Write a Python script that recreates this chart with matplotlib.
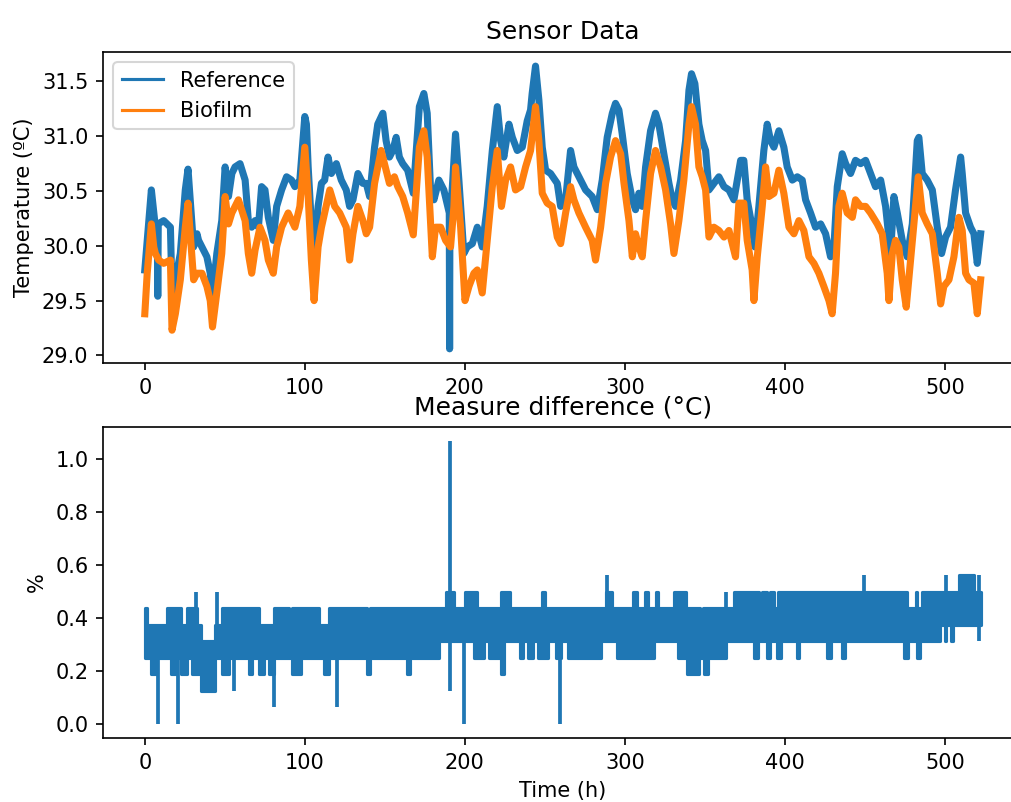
import numpy as np
import matplotlib.pyplot as plt

# reference sensor temperature (time in h, value in ºC)
ref_t = [0, 1.5, 4.1, 6.6, 7.8, 8.1, 8.4, 11.8, 16.0, 17.0, 19.1, 22.2, 25.3, 27.0, 28.4, 30.5,
         32.6, 33.6, 35.7, 38.8, 40.9, 42.3, 45.0, 48.1, 50.2, 52.3, 54.4, 56.4, 59.5, 62.7, 64.7,
         66.8, 68.9, 71.0, 73.0, 75.1, 77.2, 80.3, 82.4, 85.5, 88.6, 91.7, 93.8, 96.9, 100.0, 101.0,
         102.1, 104.1, 105.8, 108.3, 110.4, 112.4, 114.5, 116.6, 119.7, 122.8, 125.9, 128.0, 130.1,
         133.2, 136.3, 138.4, 140.5, 143.6, 145.6, 148.8, 150.8, 152.9, 155.0, 157.1, 159.1, 161.2,
         164.3, 167.8, 171.6, 174.4, 176.5, 178.6, 180.7, 183.8, 186.9, 190.3, 190.5, 190.7, 192.1,
         194.2, 196.3, 199.4, 201.5, 204.7, 207.8, 210.9, 214.0, 217.2, 220.3, 222.4, 224.4, 227.6,
         229.7, 232.8, 235.9, 239.0, 241.1, 242.1, 244.2, 246.3, 248.4, 250.5, 253.6, 257.8, 259.9,
         263.0, 266.1, 268.2, 271.3, 275.5, 279.6, 282.8, 285.9, 289.0, 292.2, 294.2, 296.3, 298.4,
         301.5, 304.7, 306.7, 308.8, 310.9, 313.0, 316.1, 319.2, 321.3, 324.4, 327.6, 329.7, 331.7,
         334.9, 338.0, 340.1, 341.7, 343.8, 346.3, 348.4, 350.5, 352.6, 355.7, 358.8, 362.0, 365.1,
         368.2, 370.3, 372.4, 374.4, 376.5, 379.6, 381.3, 383.8, 386.9, 389.0, 391.1, 393.2, 396.3,
         399.4, 401.5, 404.7, 407.8, 410.9, 413.0, 416.1, 419.2, 422.4, 425.5, 428.6, 430.7, 432.8,
         435.9, 438.0, 441.1, 444.2, 447.4, 450.5, 453.6, 456.7, 459.9, 463.0, 466.1, 468.2, 470.3,
         473.4, 476.5, 479.7, 482.8, 483.8, 485.9, 489.0, 492.2, 495.3, 498.0, 500.5, 503.6, 506.7,
         509.9, 510.9, 513.0, 516.1, 518.2, 520.3, 522.4]
ref_v = [29.78, 30.05, 30.51, 30.17, 30.17, 29.54, 30.2, 30.23, 30.17, 29.57, 29.69, 29.93, 30.51,
         30.7, 30.42, 29.99, 30.11, 30.05, 29.99, 29.9, 29.75, 29.54, 29.93, 30.23, 30.72, 30.45,
         30.66, 30.72, 30.75, 30.6, 30.23, 30.17, 30.23, 30.17, 30.54, 30.51, 30.26, 30.05, 30.36,
         30.51, 30.63, 30.6, 30.54, 30.6, 31.18, 31.11, 30.72, 30.2, 29.9, 30.36, 30.57, 30.6, 30.81,
         30.66, 30.75, 30.6, 30.51, 30.36, 30.42, 30.66, 30.57, 30.57, 30.45, 30.9, 31.11, 31.21,
         30.96, 30.81, 30.87, 30.99, 30.81, 30.75, 30.69, 30.48, 31.27, 31.39, 31.21, 30.51, 30.42,
         30.6, 30.51, 30.3, 29.06, 30.3, 30.51, 31.02, 30.6, 29.93, 29.99, 30.02, 30.17, 29.99, 30.36,
         30.87, 31.27, 30.96, 30.81, 31.11, 30.99, 30.87, 30.9, 31.14, 31.24, 31.39, 31.64, 31.33,
         30.9, 30.69, 30.66, 30.57, 30.36, 30.42, 30.87, 30.72, 30.63, 30.51, 30.45, 30.33, 30.6,
         30.99, 31.21, 31.3, 31.24, 31.02, 30.66, 30.42, 30.33, 30.48, 30.36, 30.72, 31.05, 31.21,
         31.11, 30.84, 30.57, 30.42, 30.36, 30.6, 30.96, 31.42, 31.57, 31.48, 31.11, 30.96, 30.87,
         30.51, 30.57, 30.63, 30.54, 30.51, 30.42, 30.6, 30.78, 30.78, 30.42, 30.17, 29.99, 30.36,
         30.87, 31.11, 30.96, 30.9, 31.05, 30.9, 30.72, 30.6, 30.63, 30.6, 30.42, 30.3, 30.17, 30.2,
         30.11, 29.9, 29.99, 30.54, 30.84, 30.75, 30.66, 30.78, 30.75, 30.78, 30.66, 30.54, 30.6,
         30.36, 29.93, 30.45, 30.3, 30.05, 29.9, 30.2, 30.96, 30.99, 30.66, 30.6, 30.51, 30.17, 29.93,
         30.08, 30.17, 30.51, 30.81, 30.66, 30.3, 30.17, 30.11, 29.84, 30.11]

# biofilm sensor temperature
bio_t = [0, 1.5, 4.1, 5.6, 6.6, 8.7, 11.8, 16.0, 17.0, 19.1, 22.2, 25.3, 27.0, 28.4, 30.5, 32.6,
         35.7, 38.8, 40.9, 42.3, 45.0, 48.1, 50.2, 52.3, 54.4, 58.5, 62.7, 64.7, 66.8, 68.9, 72.0,
         75.1, 77.2, 80.3, 82.4, 85.5, 89.6, 93.8, 96.9, 100.0, 102.1, 104.1, 105.8, 108.3, 110.4,
         112.4, 115.6, 118.7, 121.8, 125.9, 128.0, 130.1, 133.2, 136.3, 138.4, 140.5, 143.6, 147.7,
         150.8, 152.9, 156.0, 158.1, 161.2, 164.3, 167.8, 171.6, 174.4, 176.5, 179.7, 181.7, 184.9,
         188.0, 191.1, 193.2, 194.2, 197.4, 200.1, 202.6, 205.7, 207.8, 210.9, 214.0, 217.2, 220.3,
         222.9, 225.5, 228.6, 231.7, 234.9, 238.0, 241.1, 244.2, 246.3, 248.4, 251.5, 254.6, 257.8,
         259.9, 263.0, 266.1, 268.2, 271.3, 275.5, 279.6, 281.7, 284.9, 288.0, 291.1, 294.2, 297.4,
         299.5, 302.6, 304.7, 306.7, 308.8, 310.9, 313.0, 316.1, 319.2, 322.4, 325.5, 328.6, 330.7,
         333.8, 336.9, 340.1, 341.7, 344.2, 346.3, 348.4, 350.5, 352.6, 355.7, 358.8, 362.0, 365.1,
         369.2, 371.3, 374.4, 376.5, 379.6, 380.7, 382.8, 385.9, 388.0, 390.1, 393.2, 396.3, 399.4,
         402.6, 405.7, 408.8, 411.9, 415.1, 418.2, 421.3, 424.4, 427.6, 429.6, 431.7, 433.8, 435.9,
         439.0, 442.2, 444.2, 447.4, 450.5, 453.6, 457.8, 460.9, 464.0, 465.1, 467.2, 469.2, 471.3,
         473.4, 475.9, 478.6, 481.7, 483.4, 485.9, 489.0, 492.2, 495.3, 497.4, 499.4, 502.6, 505.7,
         508.8, 510.9, 513.0, 515.1, 518.2, 520.3, 522.4]
bio_v = [29.38, 29.75, 30.2, 29.99, 29.93, 29.87, 29.84, 29.87, 29.23, 29.38, 29.69, 30.17, 30.39,
         30.11, 29.69, 29.75, 29.75, 29.63, 29.5, 29.26, 29.57, 29.93, 30.45, 30.2, 30.3, 30.42,
         30.23, 29.93, 29.75, 29.96, 30.17, 30.05, 29.87, 29.75, 29.99, 30.17, 30.3, 30.17, 30.36,
         30.9, 30.45, 29.87, 29.5, 29.99, 30.17, 30.3, 30.51, 30.36, 30.3, 30.17, 29.87, 30.11, 30.36,
         30.23, 30.11, 30.17, 30.57, 30.87, 30.69, 30.57, 30.63, 30.54, 30.45, 30.3, 30.1, 30.9,
         31.05, 30.81, 29.9, 30.17, 30.17, 30.05, 29.99, 30.36, 30.72, 30.17, 29.5, 29.63, 29.75,
         29.78, 29.57, 30.05, 30.54, 30.87, 30.36, 30.6, 30.72, 30.51, 30.54, 30.72, 30.87, 31.27,
         30.96, 30.48, 30.39, 30.36, 30.08, 30.02, 30.3, 30.54, 30.42, 30.3, 30.17, 30.05, 29.87,
         30.17, 30.57, 30.81, 30.96, 30.84, 30.57, 30.23, 29.9, 30.11, 29.99, 29.9, 30.23, 30.66,
         30.87, 30.72, 30.51, 30.2, 29.93, 30.23, 30.6, 31.11, 31.27, 31.11, 30.72, 30.63, 30.51,
         30.08, 30.17, 30.14, 30.08, 30.14, 29.9, 30.39, 30.39, 30.05, 29.78, 29.5, 29.9, 30.36,
         30.72, 30.45, 30.48, 30.69, 30.48, 30.17, 30.11, 30.23, 30.14, 29.9, 29.84, 29.75, 29.63,
         29.5, 29.38, 29.75, 30.36, 30.48, 30.3, 30.26, 30.42, 30.36, 30.36, 30.3, 30.2, 30.11, 29.75,
         29.5, 29.93, 30.05, 29.99, 29.69, 29.44, 29.87, 30.36, 30.63, 30.3, 30.2, 30.11, 29.75,
         29.47, 29.63, 29.69, 29.9, 30.26, 30.14, 29.75, 29.69, 29.66, 29.38, 29.69]

# measure difference: band of the fast flicker (step changes at diff_t)
diff_t = [0.0, 1.6, 3.6, 7.8, 14.0, 16.2, 19.3, 22.4, 26.6, 29.7, 32.8, 34.9, 44.0, 48.4, 52.6,
          65.1, 67.2, 71.4, 74.5, 77.6, 80.7, 90.1, 92.2, 97.4, 108.9, 112.0, 115.1, 139.0, 141.0,
          164.0, 166.0, 184.0, 188.0, 193.2, 200.0, 206.0, 207.8, 212.0, 215.0, 222.5, 224.5,
          228.2, 234.5, 236.5, 239.6, 242.7, 245.8, 248.0, 250.0, 252.0, 257.0, 260.3, 264.5,
          285.0, 288.0, 292.0, 295.3, 305.3, 307.4, 312.6, 314.5, 318.0, 319.3, 321.0, 330.7,
          333.0, 338.0, 339.1, 346.4, 347.0, 349.0, 349.5, 352.0, 363.0, 368.0, 381.0, 383.0,
          383.8, 386.0, 389.0, 391.0, 393.0, 395.0, 396.0, 397.5, 407.6, 409.0, 426.5, 428.6,
          435.5, 437.5, 474.4, 476.5, 477.0, 481.8, 482.5, 484.6, 486.0, 497.0, 500.0, 501.0,
          504.0, 505.0, 509.0, 518.0, 522.4]
diff_lo = [0.25, 0.25, 0.1875, 0.25, 0.25, 0.1875, 0.25, 0.1875, 0.25, 0.1875, 0.1875, 0.125,
           0.25, 0.1875, 0.25, 0.1875, 0.25, 0.1875, 0.25, 0.1875, 0.25, 0.25, 0.1875, 0.25, 0.25,
           0.1875, 0.25, 0.1875, 0.25, 0.1875, 0.25, 0.3125, 0.3125, 0.3125, 0.3125, 0.25, 0.25,
           0.3125, 0.25, 0.1875, 0.3125, 0.3125, 0.25, 0.3125, 0.25, 0.3125, 0.25, 0.25, 0.25,
           0.3125, 0.25, 0.3125, 0.25, 0.3125, 0.3125, 0.3125, 0.25, 0.25, 0.25, 0.25, 0.25,
           0.3125, 0.3125, 0.3125, 0.3125, 0.25, 0.25, 0.1875, 0.25, 0.25, 0.25, 0.1875, 0.25,
           0.3125, 0.3125, 0.25, 0.3125, 0.3125, 0.3125, 0.25, 0.3125, 0.3125, 0.25, 0.25, 0.3125,
           0.25, 0.3125, 0.25, 0.3125, 0.25, 0.3125, 0.25, 0.25, 0.3125, 0.3125, 0.25, 0.3125,
           0.3125, 0.375, 0.3125, 0.375, 0.3125, 0.375, 0.375, 0.375, 0.375]
diff_hi = [0.4375, 0.375, 0.375, 0.375, 0.4375, 0.4375, 0.4375, 0.375, 0.4375, 0.4375, 0.375,
           0.3125, 0.375, 0.4375, 0.4375, 0.4375, 0.4375, 0.375, 0.375, 0.375, 0.4375, 0.375,
           0.4375, 0.4375, 0.375, 0.375, 0.4375, 0.375, 0.4375, 0.4375, 0.4375, 0.4375, 0.5,
           0.4375, 0.5, 0.5, 0.4375, 0.4375, 0.4375, 0.5, 0.5, 0.4375, 0.4375, 0.4375, 0.4375,
           0.4375, 0.4375, 0.5, 0.4375, 0.4375, 0.4375, 0.4375, 0.4375, 0.4375, 0.5, 0.4375,
           0.4375, 0.5, 0.4375, 0.5, 0.4375, 0.4375, 0.5, 0.4375, 0.5, 0.5, 0.4375, 0.4375,
           0.4375, 0.375, 0.4375, 0.4375, 0.4375, 0.4375, 0.5, 0.5, 0.5, 0.4375, 0.5, 0.4375, 0.5,
           0.4375, 0.4375, 0.5, 0.5, 0.5, 0.5, 0.5, 0.5, 0.5, 0.5, 0.5, 0.4375, 0.4375, 0.5,
           0.4375, 0.4375, 0.5, 0.5, 0.5, 0.5, 0.5, 0.5, 0.5625, 0.5, 0.5]
# isolated excursions of the difference
spike_t = [8.2, 20.7, 32.0, 45.3, 56.0, 80.7, 119.9, 190.5, 190.5, 199.6, 259.8, 289.0, 363.0,
           449.7, 500.5, 521.3]
spike_v = [0.0, 0.0, 0.5, 0.5, 0.125, 0.0625, 0.0625, 1.07, 0.125, 0.0, 0.0, 0.5625, 0.5,
           0.5625, 0.5625, 0.5625]

dpi = 150
fig = plt.figure(figsize=(1011 / dpi, 802 / dpi), dpi=dpi)
ax1 = fig.add_axes([0.1019, 0.5474, 0.9094, 0.3878])
ax2 = fig.add_axes([0.1019, 0.0798, 0.9094, 0.3882])

# top: both sensors
ax1.plot(ref_t, ref_v, color='C0', lw=3.4, label='Reference')
ax1.plot(bio_t, bio_v, color='C1', lw=3.4, label='Biofilm')
ax1.set_title('Sensor Data')
ax1.set_ylabel('Temperature (ºC)')
leg = ax1.legend(loc='upper left')
for line in leg.get_lines():
    line.set_linewidth(1.5)

# bottom: difference
ax2.fill_between(diff_t, diff_lo, diff_hi, step='post', color='C0', lw=1.5)
ax2.vlines(spike_t, 0.3125, spike_v, color='C0', lw=1.8)
ax2.set_title('Measure difference (°C)')
ax2.set_ylabel('%')
ax2.set_xlabel('Time (h)')

fig.savefig('out.png', dpi=dpi)
